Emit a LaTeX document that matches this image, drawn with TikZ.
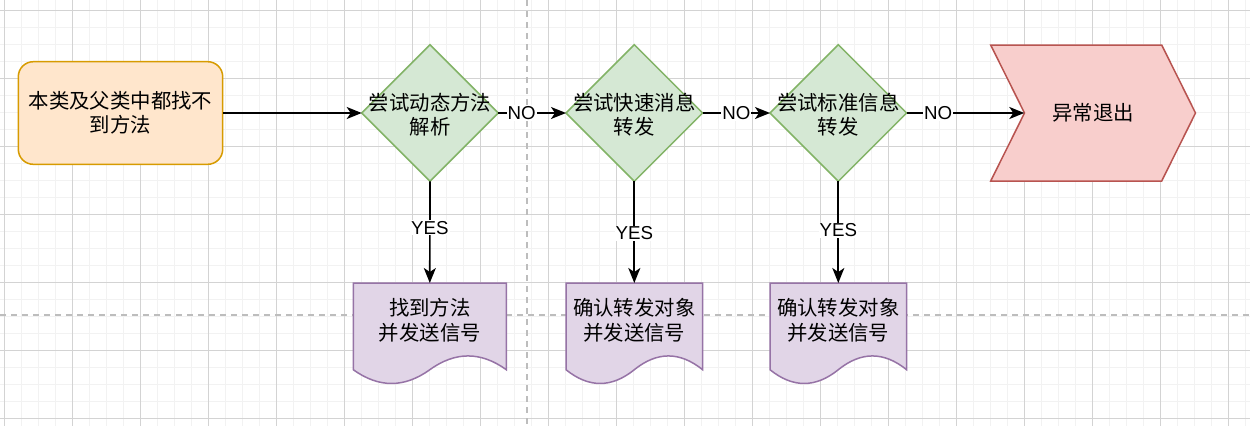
\documentclass[tikz,border=0pt]{standalone}
\usepackage{fontspec}
\setmainfont{Liberation Sans}
\newfontfamily\cjk{Noto Sans CJK SC}
\usetikzlibrary{shapes.geometric,arrows.meta}
\definecolor{startfill}{HTML}{FFE6CC}
\definecolor{startline}{HTML}{D79B00}
\definecolor{decfill}{HTML}{D5E8D4}
\definecolor{decline}{HTML}{82B366}
\definecolor{docfill}{HTML}{E1D5E7}
\definecolor{docline}{HTML}{9673A6}
\definecolor{exfill}{HTML}{F8CECC}
\definecolor{exline}{HTML}{B85450}
\definecolor{minorgrid}{HTML}{F2F2F2}
\definecolor{majorgrid}{HTML}{D3D3D3}
\definecolor{pagebreak}{HTML}{BDBDBD}
\newcommand\mydocshape[4]{%
  \filldraw[docstyle] (#1,#2) -- ({#1+#3},#2) -- ({#1+#3},{#2+0.85*#4})
    .. controls ({#1+5*#3/6},{#2+0.67*#4}) and ({#1+2*#3/3},{#2+0.67*#4}) .. ({#1+#3/2},{#2+0.85*#4})
    .. controls ({#1+#3/3},{#2+1.03*#4}) and ({#1+#3/6},{#2+1.03*#4}) .. (#1,{#2+0.85*#4}) -- cycle;}
\begin{document}
\begin{tikzpicture}[x=1pt,y=-1pt,
  startbox/.style={draw=startline, fill=startfill, rounded corners=15pt, minimum width=204.4pt, minimum height=102.6pt, line width=1.5pt, inner sep=0pt},
  decision/.style={diamond, draw=decline, fill=decfill, aspect=1, minimum width=136.6pt, minimum height=136.6pt, inner sep=0pt, outer sep=0pt, line width=1.5pt},
  docstyle/.style={draw=docline, fill=docfill, line width=1.5pt},
  exstyle/.style={draw=exline, fill=exfill, line width=1.5pt, line join=miter},
  holder/.style={rectangle, inner sep=0pt, outer sep=0pt},
  txt/.style={font=\cjk\fontsize{20.4}{24.5}\selectfont, align=center, inner sep=0pt},
  lbl/.style={font=\fontsize{18.7}{22}\selectfont, fill=white, inner sep=1pt},
  conn/.style={-{Stealth[length=15pt,width=12pt,inset=4pt]}, line width=1.7pt},
  gridminor/.style={draw=minorgrid, line width=1pt},
  gridmajor/.style={draw=majorgrid, line width=1pt},
  pagebrk/.style={draw=pagebreak, line width=2pt, dash pattern=on 6pt off 5pt}
]
\useasboundingbox (0,0) rectangle (1250,426);
\fill[white] (0,0) rectangle (1250,426);
% grid
\foreach \i in {0,...,73} {\draw[gridminor] ({4.7+17*\i},0) -- ({4.7+17*\i},426);}
\foreach \j in {0,...,24} {\draw[gridminor] (0,{10.7+17*\j}) -- (1250,{10.7+17*\j});}
\foreach \i in {0,...,18} {\draw[gridmajor] ({4.7+68*\i},0) -- ({4.7+68*\i},426);}
\foreach \j in {0,...,6} {\draw[gridmajor] (0,{10.7+68*\j}) -- (1250,{10.7+68*\j});}
\draw[pagebrk] (527,0) -- (527,426);
\draw[pagebrk] (0,314.5) -- (1250,314.5);

% start
\node[startbox, txt] (start) at (120.5,113) {本类及父类中都找不\\到方法};

% decisions
\node[decision] (d1) at (430,113) {};
\node[txt] (d1t) at (430,114.5) {尝试动态方法\\解析};
\node[decision] (d2) at (634.3,113) {};
\node[txt] (d2t) at (634.3,114.5) {尝试快速消息\\转发};
\node[decision] (d3) at (838.3,113) {};
\node[txt] (d3t) at (838.3,114.5) {尝试标准信息\\转发};

% documents
\mydocshape{353.3}{283}{153}{102}
\node[holder, minimum width=153pt, minimum height=102pt] (s1) at (429.8,334) {};
\node[txt] (s1t) at (429.8,320.5) {找到方法\\并发送信号};
\mydocshape{566}{283}{136.6}{102}
\node[holder, minimum width=136.6pt, minimum height=102pt] (s2) at (634.3,334) {};
\node[txt] (s2t) at (634.3,320.5) {确认转发对象\\并发送信号};
\mydocshape{770}{283}{136.6}{102}
\node[holder, minimum width=136.6pt, minimum height=102pt] (s3) at (838.3,334) {};
\node[txt] (s3t) at (838.3,320.5) {确认转发对象\\并发送信号};

% exit chevron
\draw[exstyle] (990.7,45) -- (1161.7,45) -- (1195.5,113) -- (1161.7,181) -- (990.7,181) -- (1024.5,113) -- cycle;
\node[holder, txt, minimum width=137.6pt, minimum height=136pt] (ex) at (1093.1,113) {异常退出};

% connectors
\draw[conn] (start.east) -- (d1.west);
\draw[conn] (d1.east) -- node[lbl, pos=0.345] {NO} (d2.west);
\draw[conn] (d2.east) -- node[lbl, pos=0.5] {NO} (d3.west);
\draw[conn] (d3.east) -- node[lbl, pos=0.267] {NO} (ex.west);
\draw[conn] (d1.south) -- node[lbl, pos=0.457] {YES} (s1.north);
\draw[conn] (d2.south) -- node[lbl, pos=0.51] {YES} (s2.north);
\draw[conn] (d3.south) -- node[lbl, pos=0.484] {YES} (s3.north);
\end{tikzpicture}
\end{document}
